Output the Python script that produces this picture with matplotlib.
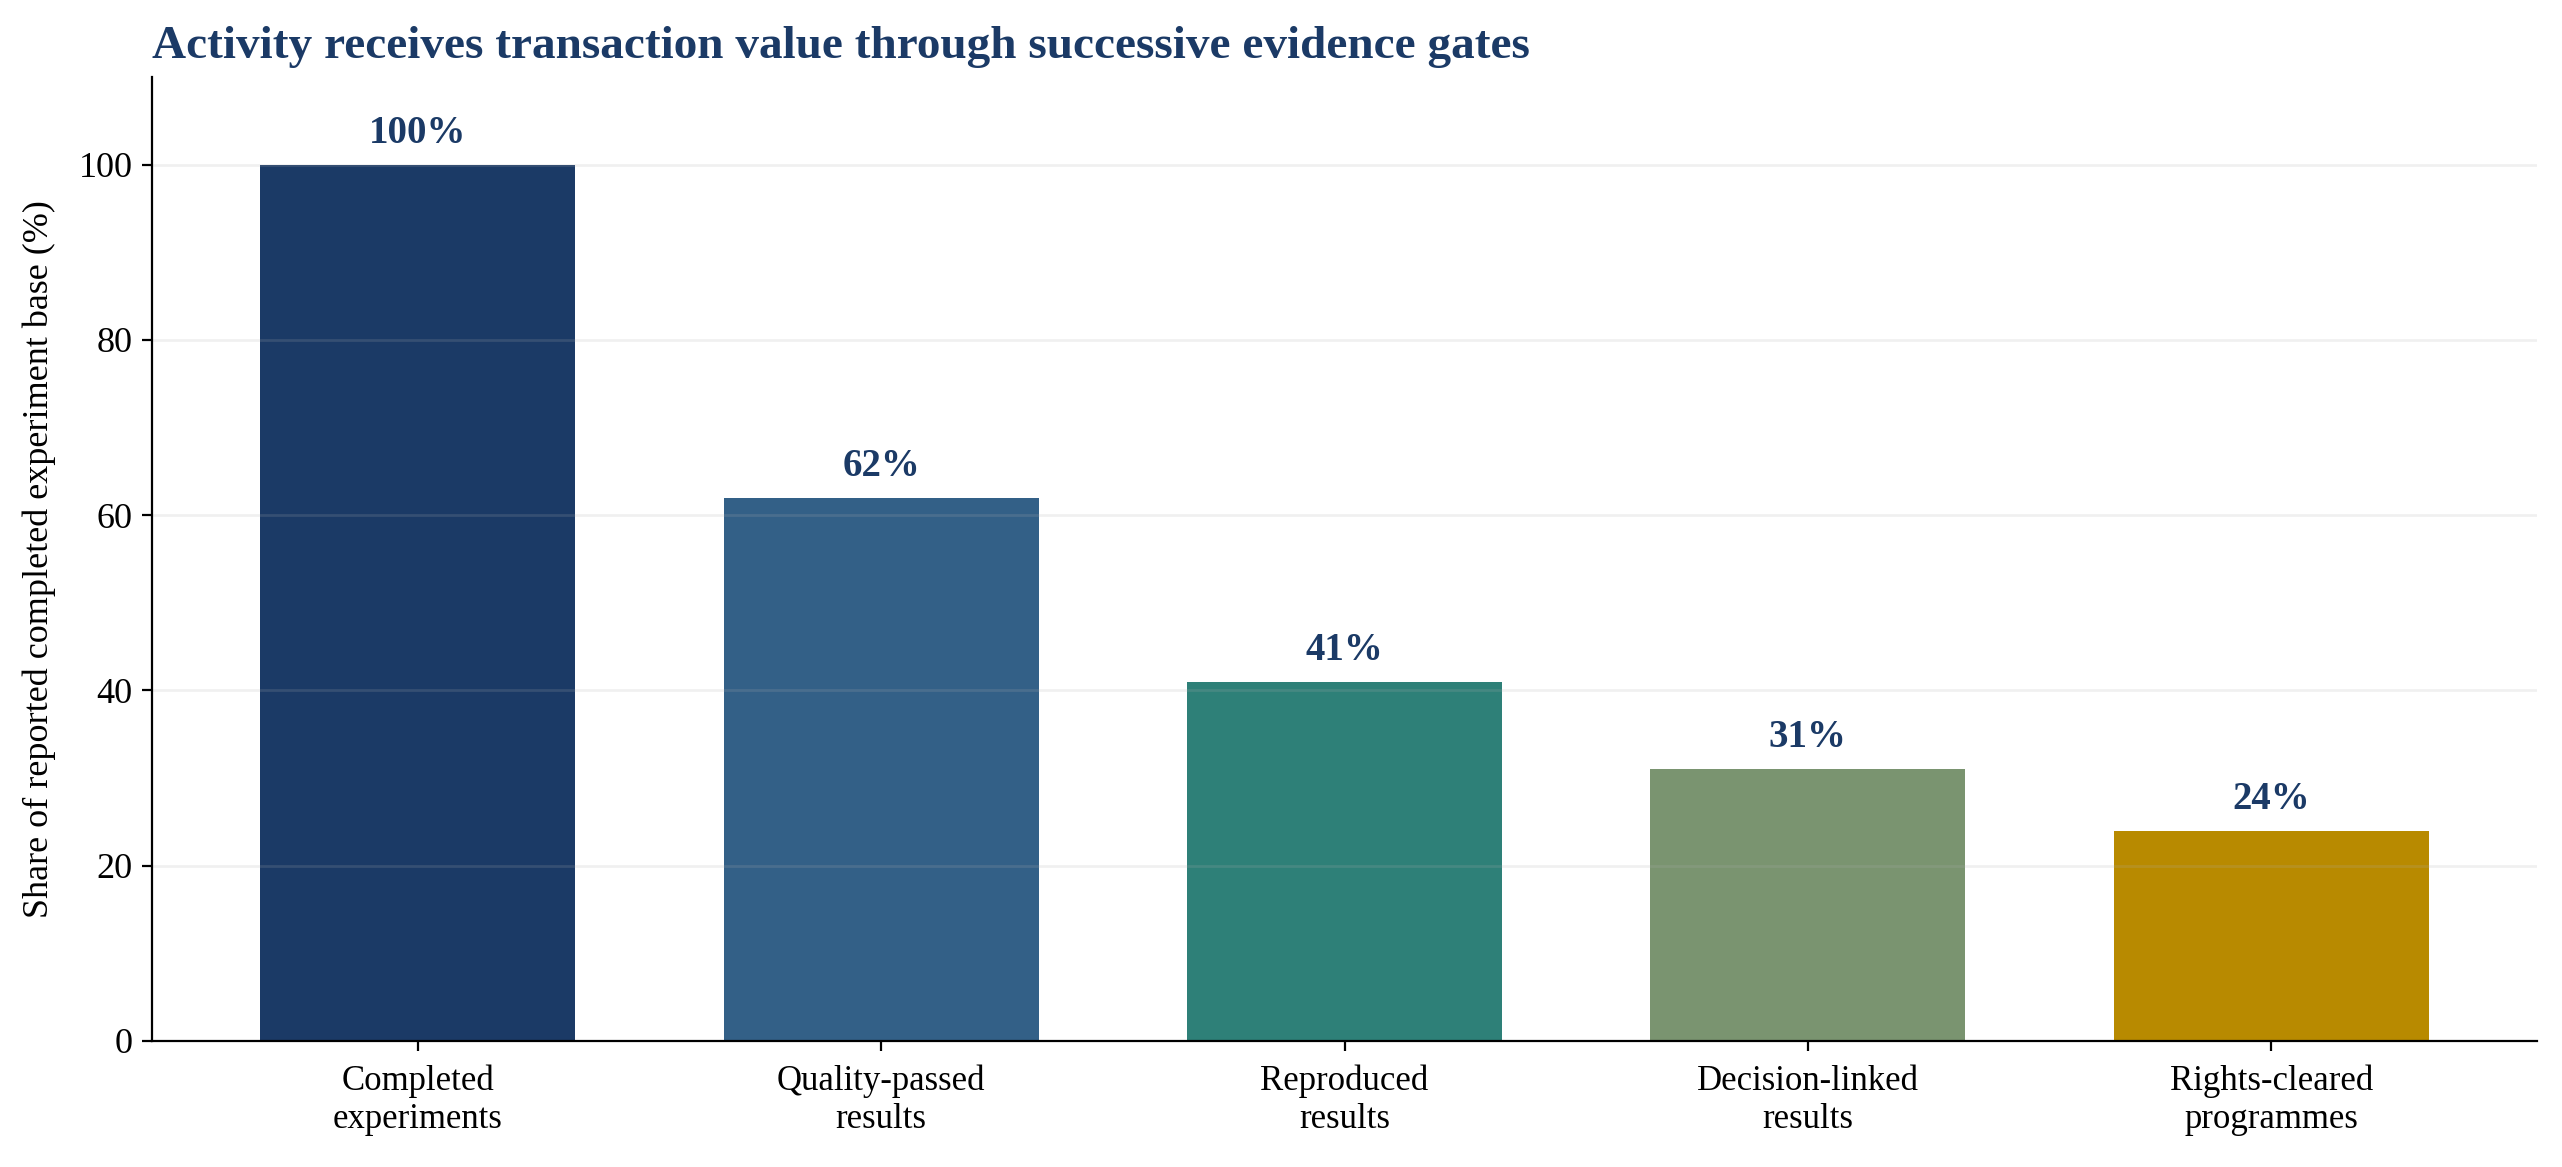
import matplotlib
matplotlib.use('Agg')
import matplotlib.pyplot as plt

plt.rcParams['font.family'] = ['Liberation Serif', 'DejaVu Serif']

stages = ['Completed\nexperiments', 'Quality-passed\nresults', 'Reproduced\nresults',
          'Decision-linked\nresults', 'Rights-cleared\nprogrammes']
shares = [100, 62, 41, 31, 24]
colors = ['#1b3a66', '#336087', '#2e8078', '#7a9470', '#b88a00']

navy = '#1b3a66'

fig = plt.figure(figsize=(12.81, 5.835), dpi=200)
ax = fig.add_axes([0.0593, 0.108, 0.931, 0.826])

x = range(len(stages))
ax.bar(x, shares, width=0.68, color=colors)
for xi, v in zip(x, shares):
    ax.text(xi, v + 1.5, f'{v}%', ha='center', va='bottom',
            fontsize=14, fontweight='bold', color=navy)

ax.set_xticks(list(x))
ax.set_xticklabels(stages, fontsize=12.5)
ax.tick_params(axis='x', pad=5)
ax.set_ylim(0, 110)
ax.set_yticks([0, 20, 40, 60, 80, 100])
ax.tick_params(axis='y', labelsize=13)
ax.set_ylabel('Share of reported completed experiment base (%)', fontsize=13, labelpad=8)
ax.grid(axis='y', color='#b0b0b0', alpha=0.18, linewidth=1)
ax.spines['top'].set_visible(False)
ax.spines['right'].set_visible(False)
ax.set_title('Activity receives transaction value through successive evidence gates',
             loc='left', fontsize=17, fontweight='bold', color=navy, pad=7)

fig.savefig('out.png', dpi=200)
